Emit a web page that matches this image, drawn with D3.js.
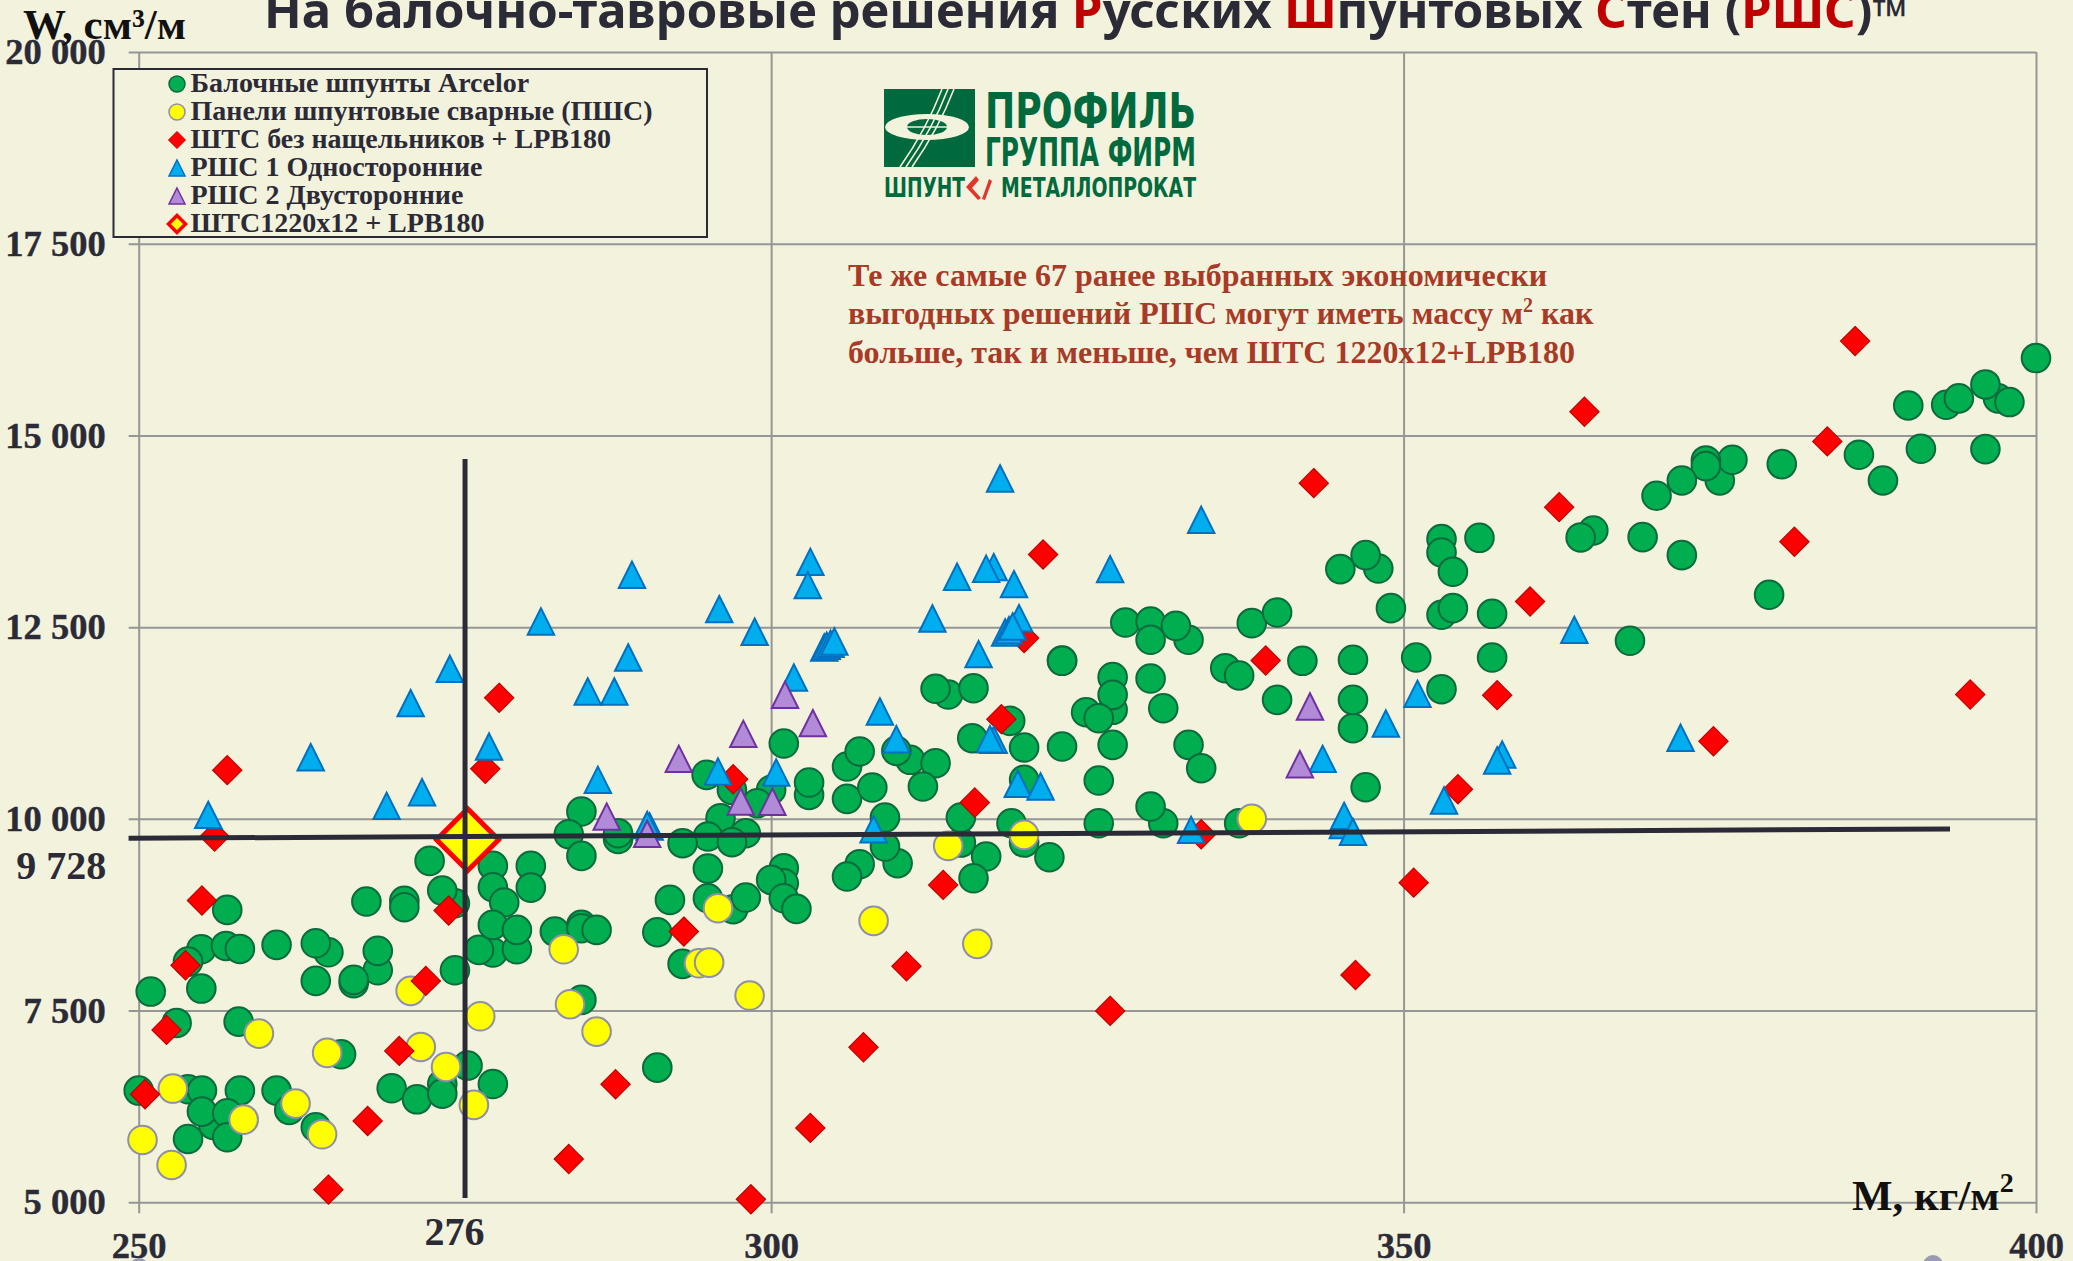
<!DOCTYPE html>
<html>
<head>
<meta charset="utf-8">
<script src="https://cdnjs.cloudflare.com/ajax/libs/d3/7.8.5/d3.min.js"></script>
<style>
  html, body { margin: 0; padding: 0; background: #f3f2dc; overflow: hidden; }
  svg { display: block; }
  text { font-family: "Liberation Serif", serif; font-weight: bold; }
  .tick text { font-family: "Liberation Serif", serif; font-size: 36.5px; font-weight: bold; fill: #2b2b38; stroke: #2b2b38; stroke-width: 0.4px; }
</style>
</head>
<body>
<div id="chart"></div>
<script>
// Step 1: the data, [M kg/m2, W cm3/m]
var arcelor = [
    [254.95, 8300], [253.9, 8139], [256.9, 8343], [258, 8304], [260.9, 8357], [265, 8261], [264, 8378], [268.9, 8026],
    [268.9, 8278], [264, 7887], [267, 7857], [267, 7900], [250.95, 7748], [254.95, 7787], [275, 8026], [278, 8257],
    [276.9, 8291], [279.9, 8300], [253, 7339], [257.9, 7356], [266, 6930], [276, 6783], [285, 7639], [278, 6543],
    [270, 6487], [274, 6543], [272, 6343], [274, 6417], [250, 6457], [253.9, 6474], [255, 6457], [258, 6457],
    [260.9, 6457], [255.9, 6009], [255, 6183], [257, 6161], [257, 5848], [253.9, 5826], [261.9, 6204], [264, 5978],
    [273, 9452], [278, 9387], [281, 9387], [278, 9109], [281, 9104], [278.9, 8909], [278, 8617], [279.9, 8552],
    [275, 8900], [274, 9065], [271, 8930], [271, 8848], [268, 8922], [257, 8813], [285, 10096], [284, 9800],
    [285, 9517], [282.9, 8530], [285, 8617], [285, 8574], [286.2, 8552],
    [301, 10983], [294.9, 10574], [296.9, 10378], [300, 10378], [298.9, 10204], [296, 10009], [303, 10313], [303, 10474],
    [306, 10683], [307, 10878], [306, 10261], [308, 10409], [311, 10770], [309.9, 10887], [313, 10726], [312, 10422],
    [314, 11622], [313, 11696], [316, 11704], [323, 12065], [315.9, 11052], [318.9, 11278], [320, 10930], [323, 10943],
    [320, 10509], [309, 10017], [310, 9422], [309, 9639], [307, 9409], [306, 9248], [315, 9691], [315, 10017],
    [317, 9509], [316, 9226], [320, 9691], [319, 9943], [322, 9500], [298, 9813], [295, 9770], [293, 9683], [296.9, 9696],
    [287.9, 9739], [287.9, 9813], [295, 9352], [301, 9357], [301, 9161], [300, 9204], [301, 8965], [302, 8826], [297, 8822],
    [298, 8974], [295, 8965], [292, 8943], [291, 8522], [293, 8109], [291, 6756],
    [328, 12561], [333, 12335], [330, 12574], [330, 12335], [332, 12517], [323, 12061], [327, 11422], [327, 11848], [327, 11617],
    [324.9, 11391], [325.9, 11313], [330, 11830], [331, 11443], [335.9, 11965], [337, 11870], [338, 12552], [340, 12691],
    [342, 12061], [346, 12074], [340, 11552], [346, 11183], [346, 11552], [333, 10965], [334, 10661], [325.9, 10500],
    [327, 10965], [347, 10413], [325.9, 9943], [331, 9943], [330, 10161], [337, 9943],
    [348, 13265], [345, 13257], [347, 13439], [349, 12748], [353, 13648], [353, 13474], [353.9, 13222], [356, 13665],
    [353, 12661], [353.9, 12748], [357, 12674], [351, 12104], [357, 12104], [353, 11691],
    [400, 16009], [397, 15483], [396, 15665], [397.9, 15435], [392.9, 15400], [393.9, 15483], [389.9, 15391], [390.9, 14826],
    [396, 14822], [386, 14748], [387.9, 14413], [379.9, 14626], [375, 14413], [376, 14683], [373.9, 14674], [373.9, 14600],
    [372, 14413], [370, 14213], [365, 13761], [364, 13670], [368.9, 13674], [372, 13439], [378.9, 12922], [367.9, 12322]
];

var weldedPanels = [
    [271.5, 7757], [277, 7426], [283.6, 8300], [284.1, 7583], [286.2, 7226], [259.5, 7200], [264.9, 6948], [272.3, 7026],
    [274.3, 6765], [276.5, 6270], [252.7, 6483], [258.3, 6078], [262.4, 6287], [264.5, 5887], [250.3, 5813], [252.6, 5487],
    [295.8, 8835], [314, 9648], [320, 9791], [308.1, 8670], [316.3, 8370], [294.3, 8117], [295.1, 8126], [298.3, 7696], [338, 10000]
];

var shtsPlain = [
    [253.7, 8091], [272.7, 7887], [252.2, 7248], [270.6, 6974], [250.5, 6409], [268.1, 6061], [265, 5165], [284, 5565],
    [257, 10635], [278.5, 11578], [277.4, 10652], [256, 9770], [255, 8935], [274.5, 8804],
    [297, 10517], [318.2, 11300], [316.1, 10213], [313.6, 9139], [293.1, 8530], [320, 12357], [310.7, 8078], [307.3, 7022],
    [303.1, 5970], [298.4, 5039], [287.7, 6539], [326.8, 7496], [321.5, 13448], [342.9, 14378], [339.1, 12065], [334, 9800],
    [360, 12835], [362.3, 14065], [357.4, 11613], [354.3, 10387], [350.8, 9168], [346.2, 7964],
    [385.7, 16230], [364.3, 15309], [383.5, 14922], [380.9, 13613], [394.8, 11622], [374.5, 11013]
];

var rshOneSided = [
    [274.6, 11957], [271.5, 11509], [263.6, 10804], [277.7, 10943], [285.5, 11661], [281.8, 12574], [272.4, 10348],
    [269.6, 10170], [255.5, 10052], [286.3, 10509], [288.7, 12104], [287.6, 11661], [289, 13183], [295.9, 12735],
    [298.7, 12440], [303.1, 13352], [302.9, 13048], [318.1, 14439], [314.7, 13157], [317.6, 13283], [317, 13261], [319.2, 13061],
    [312.75, 12613], [319.6, 12617], [318.5, 12430], [318.8, 12460], [319.1, 12509], [304.2, 12235], [304.4, 12257], [304.7, 12283],
    [305, 12313], [316.4, 12148], [308.6, 11400], [309.9, 11039], [301.8, 11843], [317.6, 11030], [317.3, 11039], [319.5, 10456],
    [321.3, 10422], [295.8, 10617], [300.4, 10604], [308.1, 9865], [290.4, 9900], [290.2, 9920],
    [334, 13900], [326.8, 13257], [363.5, 12465], [351.1, 11630], [348.6, 11243], [357.8, 10839], [357.4, 10761], [353.2, 10239],
    [345.2, 9920], [345.3, 10039], [346, 9830], [371.9, 11057], [343.6, 10783], [333.2, 9856]
];

var rshTwoSided = [
    [292.7, 10783], [297.8, 11109], [301.1, 11617], [303.3, 11248], [297.6, 10226], [300.1, 10222], [287, 10030], [290.2, 9804],
    [342.6, 11465], [341.8, 10713]
];

var baseSolution = [[276, 9728]];

// the two dark reference lines
var refHorizontal = [[249.2, 9747], [393.2, 9868]];
var refVertical = [[275.8, 14693], [275.8, 5056]];

var xTicks = [250, 300, 350, 400];
var yTicks = [5000, 7500, 10000, 12500, 15000, 17500, 20000];

var legendLabels = [
    "Балочные шпунты Arcelor",
    "Панели шпунтовые сварные (ПШС)",
    "ШТС без нащельников + LPB180",
    "РШС 1 Односторонние",
    "РШС 2 Двусторонние",
    "ШТС1220x12 + LPB180"
];

var titleParts = ["На балочно-тавровые решения ", "Р", "усских ", "Ш", "пунтовых ", "С", "тен (", "РШС", ")"];
var noteLines = [
    ["Те же самые 67 ранее выбранных экономически"],
    ["выгодных решений РШС могут иметь массу м", "2", " как"],
    ["больше, так и меньше, чем ШТС 1220x12+LPB180"]
];

// Step 2: scales
var margin = { top: 52, left: 138.7 },
    width = 1897.3,
    height = 1150.3;

var x = d3.scaleLinear().domain([250, 400]).range([0, width]);
var y = d3.scaleLinear().domain([5000, 20000]).range([height, 0]);

var dark = "#2b2b38", bg = "#f3f2dc", gridColor = "#969696";

var root = d3.select("#chart").append("svg")
    .attr("width", 2073)
    .attr("height", 1261);

root.append("rect").attr("width", 2073).attr("height", 1261).attr("fill", bg);

var svg = root.append("g")
    .attr("transform", "translate(" + margin.left + "," + margin.top + ")");

// Step 3: axes, the ticks double as the grid
var spaced = function (d) { return d3.format(",")(d).replace(",", " "); };

var xAxis = d3.axisBottom(x).tickValues(xTicks).tickSize(-height).tickFormat(d3.format("d"));
var yAxis = d3.axisLeft(y).tickValues(yTicks).tickSize(-width).tickFormat(spaced);

var gx = svg.append("g").attr("transform", "translate(0," + height + ")").call(xAxis);
gx.select(".domain").remove();
gx.selectAll("line").attr("y1", 11).attr("stroke", gridColor).attr("stroke-width", 2);
gx.selectAll("text").attr("y", 55.5).attr("dy", 0);

var gy = svg.append("g").call(yAxis);
gy.select(".domain").remove();
gy.selectAll("line").attr("x1", -10).attr("stroke", gridColor).attr("stroke-width", 2);
gy.selectAll("text").attr("x", -33);

// extra labels for the base solution
svg.append("text").attr("x", x(276) - 13).attr("y", height + 43)
    .attr("text-anchor", "middle").attr("font-size", 40).attr("fill", dark).text("276");
svg.append("text").attr("x", -32.5).attr("y", y(9728) + 39)
    .attr("text-anchor", "end").attr("font-size", 40).attr("fill", dark).text("9 728");

// Step 4: marks
function diamond(s) { return "M0," + (-s) + "L" + s + ",0L0," + s + "L" + (-s) + ",0Z"; }
function triangle(s) { return "M0," + (-s) + "L" + s + "," + s + "L" + (-s) + "," + s + "Z"; }
function at(d) { return "translate(" + x(d[0]) + "," + y(d[1]) + ")"; }

function dots(cls, data, r, fill, stroke, sw) {
    svg.selectAll("." + cls).data(data).enter().append("circle")
        .attr("class", cls)
        .attr("cx", function (d) { return x(d[0]); })
        .attr("cy", function (d) { return y(d[1]); })
        .attr("r", r).attr("fill", fill).attr("stroke", stroke).attr("stroke-width", sw);
}

function shapes(cls, data, path, fill, stroke, sw) {
    svg.selectAll("." + cls).data(data).enter().append("path")
        .attr("class", cls)
        .attr("transform", at)
        .attr("d", path).attr("fill", fill).attr("stroke", stroke).attr("stroke-width", sw);
}

dots("arcelor", arcelor, 14.3, "#00ad4f", "#0b6b3c", 2);
dots("welded", weldedPanels, 14.3, "#ffff00", "#8f8fa6", 2);
shapes("plain", shtsPlain, diamond(14.6), "#ff0000", "#c00000", 1.2);
shapes("one", rshOneSided, triangle(13.2), "#00aeef", "#0070c0", 2);
shapes("two", rshTwoSided, triangle(13.2), "#b18bd8", "#7030a0", 2);
shapes("base", baseSolution, diamond(31), "#ffff00", "#ff0000", 5);

var line = d3.line().x(function (d) { return x(d[0]); }).y(function (d) { return y(d[1]); });
svg.append("path").attr("d", line(refHorizontal)).attr("stroke", dark).attr("stroke-width", 5).attr("fill", "none");
svg.append("path").attr("d", line(refVertical)).attr("stroke", dark).attr("stroke-width", 5).attr("fill", "none");

// Step 5: titles and notes
var title = root.append("text")
    .attr("x", 264).attr("y", 28)
    .style("font-family", '"Noto Sans", sans-serif')
    .attr("font-size", 49)
    .attr("fill", dark);
title.selectAll("tspan").data(titleParts).enter().append("tspan")
    .attr("fill", function (d, i) { return i % 2 ? "#c00000" : dark; })
    .text(function (d) { return d; });
title.append("tspan").attr("font-size", 46).attr("dy", 5).text("™");

root.append("text").attr("x", 23).attr("y", 39).attr("font-size", 43).attr("fill", "#111").text("W, см³/м");

var mTitle = root.append("text").attr("x", 1852).attr("y", 1210).attr("font-size", 43).attr("fill", "#111");
mTitle.append("tspan").text("M, кг/м");
mTitle.append("tspan").attr("font-size", 28).attr("dy", -18).text("2");

var note = root.append("g");
noteLines.forEach(function (parts, i) {
    var t = note.append("text").attr("x", 848).attr("y", 286 + i * 38.4)
        .attr("font-size", 32).attr("fill", "#a83a28");
    parts.forEach(function (p, j) {
        var s = t.append("tspan").text(p);
        if (parts.length > 1 && j === 1) s.attr("font-size", 20).attr("dy", -12);
        if (parts.length > 1 && j === 2) s.attr("dy", 12);
    });
});

// Step 6: legend
var legend = root.append("g");
legend.append("rect").attr("x", 113.5).attr("y", 69).attr("width", 593.5).attr("height", 168)
    .attr("fill", bg).attr("stroke", dark).attr("stroke-width", 2);

var rowY = d3.scalePoint().domain(d3.range(legendLabels.length)).range([84, 224]);

var rows = legend.selectAll(".row").data(legendLabels).enter().append("g")
    .attr("class", "row")
    .attr("transform", function (d, i) { return "translate(177," + rowY(i) + ")"; });

rows.append("text").attr("x", 13.5).attr("y", 8).attr("font-size", 28).attr("fill", dark)
    .text(function (d) { return d; });

var legendMarks = [
    { path: d3.arc()({ innerRadius: 0, outerRadius: 8, startAngle: 0, endAngle: 2 * Math.PI }), fill: "#00ad4f", stroke: "#0b6b3c", sw: 1.5 },
    { path: d3.arc()({ innerRadius: 0, outerRadius: 8, startAngle: 0, endAngle: 2 * Math.PI }), fill: "#ffff00", stroke: "#8f8fa6", sw: 1.5 },
    { path: diamond(8.5), fill: "#ff0000", stroke: "#c00000", sw: 1 },
    { path: triangle(8), fill: "#00aeef", stroke: "#0070c0", sw: 1.5 },
    { path: triangle(8), fill: "#b18bd8", stroke: "#7030a0", sw: 1.5 },
    { path: diamond(8.5), fill: "#ffff00", stroke: "#ff0000", sw: 3.5 }
];
rows.append("path")
    .attr("d", function (d, i) { return legendMarks[i].path; })
    .attr("fill", function (d, i) { return legendMarks[i].fill; })
    .attr("stroke", function (d, i) { return legendMarks[i].stroke; })
    .attr("stroke-width", function (d, i) { return legendMarks[i].sw; });

// Step 7: company logo
var logoGreen = "#006a3e";
var logo = root.append("g");
logo.append("rect").attr("x", 884).attr("y", 89).attr("width", 91).attr("height", 78).attr("fill", logoGreen);
logo.append("ellipse").attr("cx", 927).attr("cy", 127).attr("rx", 42).attr("ry", 13).attr("fill", "#f3f2dc");
logo.append("ellipse").attr("cx", 927).attr("cy", 127).attr("rx", 20).attr("ry", 8).attr("fill", logoGreen);
[-6, 0, 6].forEach(function (o) {
    logo.append("path")
        .attr("d", "M" + (948 + o) + ",89C" + (938 + o) + ",115 " + (925 + o) + ",140 " + (906 + o) + ",167")
        .attr("fill", "none").attr("stroke", "#f3f2dc").attr("stroke-width", 1.6);
});
logo.append("path").attr("d", "M907,127H947").attr("stroke", "#f3f2dc").attr("stroke-width", 1.4);

function logoText(str, lx, ly, len, size, fill) {
    logo.append("text").attr("x", lx).attr("y", ly)
        .attr("textLength", len).attr("lengthAdjust", "spacingAndGlyphs")
        .style("font-family", '"DejaVu Sans", sans-serif')
        .attr("font-size", size).attr("fill", fill).text(str);
}
logoText("ПРОФИЛЬ", 985, 128, 211, 50, logoGreen);
logoText("ГРУППА ФИРМ", 985, 166, 211, 39, logoGreen);
logoText("ШПУНТ", 884, 197, 81, 26, logoGreen);
logoText("МЕТАЛЛОПРОКАТ", 1001, 197, 195, 26, logoGreen);
logo.append("path").attr("d", "M966,187L976,176L979,180L972,188L981,198L978,200Z").attr("fill", "#e2352b");
logo.append("path").attr("d", "M992,181L989,179L982,199L985,200Z").attr("fill", "#e2352b");

// Step 8: the slide bullets just peeking in at the bottom edge
root.append("circle").attr("cx", 139).attr("cy", 1268).attr("r", 10).attr("fill", "#9a9ab2");
root.append("circle").attr("cx", 1933).attr("cy", 1265).attr("r", 10).attr("fill", "#9a9ab2");
</script>
</body>
</html>
